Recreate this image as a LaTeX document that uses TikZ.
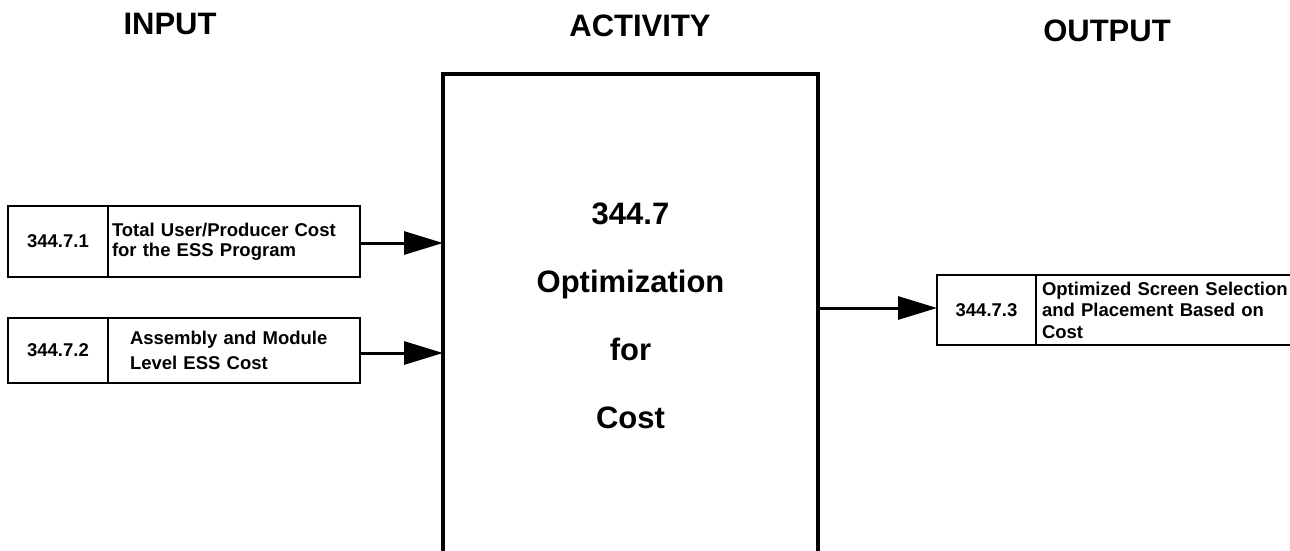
\documentclass[tikz,border=0pt]{standalone}
\usepackage{fontspec}
\setmainfont{Liberation Sans}
\usetikzlibrary{positioning,arrows.meta}

\begin{document}
\begin{tikzpicture}[
  x=1pt, y=-1pt,
  heading/.style={inner sep=0pt, font=\fontsize{31}{36}\selectfont\bfseries},
  idbox/.style={rectangle, draw=black, line width=2.6pt, outer sep=0pt, inner sep=0pt,
                minimum width=100pt, align=center, font=\fontsize{18.5}{19}\selectfont\bfseries},
  descbox/.style={rectangle, draw=black, line width=2.6pt, outer sep=0pt, inner ysep=0pt,
                  align=left},
  activity/.style={rectangle, draw=black, line width=3.6pt, outer sep=0pt, inner sep=0pt,
                   minimum width=375pt, minimum height=484pt, align=center,
                   font=\fontsize{31}{68}\selectfont\bfseries},
  flow/.style={line width=3pt, -{Triangle[length=39pt, width=23pt]}}
]
  \useasboundingbox (0,0) rectangle (1290,550);

  % ── Column headings ────────────────────────────────────────────────────
  \node[heading] (inhead)  at ( 170, 24) {INPUT};
  \node[heading] (acthead) at ( 640, 26) {ACTIVITY};
  \node[heading] (outhead) at (1107, 31) {OUTPUT};

  % ── Activity ───────────────────────────────────────────────────────────
  \node[activity] (act) at (630.5, 316) {344.7\\Optimization\\for\\Cost};

  % ── Inputs ─────────────────────────────────────────────────────────────
  \node[idbox, minimum height=71pt] (in1id) at (58, 241.5) {344.7.1};
  \node[descbox, right=0pt of in1id, minimum height=71pt, inner xsep=4pt, text width=244pt,
        font=\fontsize{18.5}{20}\selectfont\bfseries] (in1desc)
        {Total User/Producer Cost\\for the ESS Program};

  \node[idbox, minimum height=65pt] (in2id) at (58, 350.5) {344.7.2};
  \node[descbox, right=0pt of in2id, minimum height=65pt, inner xsep=22pt, text width=208pt,
        font=\fontsize{18.5}{25}\selectfont\bfseries] (in2desc)
        {Assembly and Module\\Level ESS Cost};

  % ── Output ─────────────────────────────────────────────────────────────
  \node[idbox, minimum width=99pt, minimum height=70pt] (out1id) at (986.5, 310) {344.7.3};
  \node[descbox, right=0pt of out1id, minimum height=70pt, inner xsep=6pt, text width=262pt,
        font=\fontsize{18.5}{21.5}\selectfont\bfseries] (out1desc)
        {Optimized Screen Selection\\and Placement Based on\\Cost};

  % ── Flows ──────────────────────────────────────────────────────────────
  \draw[flow] ([yshift=-1.5pt]in1desc.east) -- ([yshift=-1.5pt]in1desc.east -| act.west);
  \draw[flow] ([yshift=-2.5pt]in2desc.east) -- ([yshift=-2.5pt]in2desc.east -| act.west);
  \draw[flow] ([yshift=2pt]act.east |- out1id.west) -- ([yshift=2pt]out1id.west);
\end{tikzpicture}
\end{document}
